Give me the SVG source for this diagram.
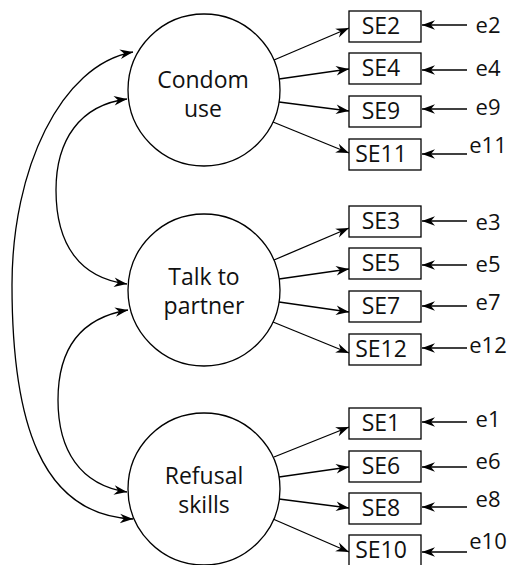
<svg xmlns="http://www.w3.org/2000/svg" width="516" height="565" viewBox="0 0 516 565">
  <style>
    .latent { fill: #fff; stroke: #000; stroke-width: 1.3; }
    .item { fill: #fff; stroke: #000; stroke-width: 1.3; }
    .lbl { font-family: "Open Sans", "DejaVu Sans", sans-serif; font-size: 23px; fill: #111; text-anchor: middle; }
    .err { font-family: "Open Sans", "DejaVu Sans", sans-serif; font-size: 22px; fill: #111; text-anchor: middle; }
    .edge { fill: none; stroke: #000; stroke-width: 1.3; marker-end: url(#head); }
    .cov { fill: none; stroke: #000; stroke-width: 1.3; marker-start: url(#head); marker-end: url(#head); }
  </style>
  <defs>
    <marker id="head" markerUnits="userSpaceOnUse" markerWidth="16" markerHeight="12" viewBox="-14 -6 16 12" refX="0" refY="0" orient="auto-start-reverse">
      <path d="M0,0 L-13,-4.8 L-9,0 L-13,4.8 Z" fill="#000"/>
    </marker>
  </defs>
  <rect width="516" height="565" fill="#fff"/>

  <!-- connectors -->
  <g id="connectors">
    <!-- covariances between factors -->
    <path class="cov" d="M133,52 C60,65 12,170 12,285 C12,420 40,515 133,519"/>
    <path class="cov" d="M127,99 C80,105 56,140 56,190 C56,245 80,278 127,284"/>
    <path class="cov" d="M128,310 C80,318 58,350 58,400 C58,450 80,485 127,492"/>

    <!-- loadings: Condom use -->
    <line class="edge" x1="274" y1="60" x2="349" y2="28"/>
    <line class="edge" x1="279" y1="79" x2="349" y2="69"/>
    <line class="edge" x1="279" y1="102" x2="349" y2="111"/>
    <line class="edge" x1="273" y1="122" x2="349" y2="153"/>
    <!-- loadings: Talk to partner -->
    <line class="edge" x1="274" y1="260" x2="349" y2="228"/>
    <line class="edge" x1="279" y1="279" x2="349" y2="269"/>
    <line class="edge" x1="279" y1="302" x2="349" y2="312"/>
    <line class="edge" x1="273" y1="322" x2="349" y2="353"/>
    <!-- loadings: Refusal skills -->
    <line class="edge" x1="274" y1="457" x2="349" y2="427"/>
    <line class="edge" x1="279" y1="477" x2="349" y2="467"/>
    <line class="edge" x1="279" y1="499" x2="349" y2="508"/>
    <line class="edge" x1="273" y1="519" x2="349" y2="552"/>

    <!-- error terms -->
    <line class="edge" x1="467" y1="25" x2="422" y2="25"/>
    <line class="edge" x1="467" y1="70" x2="422" y2="70"/>
    <line class="edge" x1="467" y1="109" x2="422" y2="109"/>
    <line class="edge" x1="467" y1="154" x2="422" y2="154"/>
    <line class="edge" x1="467" y1="221" x2="422" y2="221"/>
    <line class="edge" x1="467" y1="265" x2="422" y2="265"/>
    <line class="edge" x1="467" y1="306" x2="422" y2="306"/>
    <line class="edge" x1="467" y1="348" x2="422" y2="348"/>
    <line class="edge" x1="467" y1="422" x2="422" y2="422"/>
    <line class="edge" x1="467" y1="467" x2="422" y2="467"/>
    <line class="edge" x1="467" y1="507" x2="422" y2="507"/>
    <line class="edge" x1="467" y1="552" x2="422" y2="552"/>
  </g>

  <!-- latent factors -->
  <g id="condom-use">
    <circle class="latent" cx="204" cy="90" r="76"/>
    <text class="lbl" x="203" y="88">Condom</text>
    <text class="lbl" x="203" y="117">use</text>
  </g>
  <g id="talk-to-partner">
    <circle class="latent" cx="204" cy="290" r="76"/>
    <text class="lbl" x="204" y="285">Talk to</text>
    <text class="lbl" x="204" y="314">partner</text>
  </g>
  <g id="refusal-skills">
    <circle class="latent" cx="204" cy="489" r="76"/>
    <text class="lbl" x="204" y="484">Refusal</text>
    <text class="lbl" x="204" y="513">skills</text>
  </g>

  <!-- observed items -->
  <g id="SE2"><rect class="item" x="349" y="11" width="72" height="31"/><text class="lbl" x="381" y="34">SE2</text></g>
  <g id="SE4"><rect class="item" x="349" y="53" width="72" height="31"/><text class="lbl" x="381" y="76">SE4</text></g>
  <g id="SE9"><rect class="item" x="349" y="96" width="72" height="31"/><text class="lbl" x="381" y="119">SE9</text></g>
  <g id="SE11"><rect class="item" x="349" y="139" width="72" height="31"/><text class="lbl" x="381" y="162">SE11</text></g>

  <g id="SE3"><rect class="item" x="349" y="206" width="72" height="31"/><text class="lbl" x="381" y="229">SE3</text></g>
  <g id="SE5"><rect class="item" x="349" y="248" width="72" height="31"/><text class="lbl" x="381" y="271">SE5</text></g>
  <g id="SE7"><rect class="item" x="349" y="291" width="72" height="31"/><text class="lbl" x="381" y="314">SE7</text></g>
  <g id="SE12"><rect class="item" x="349" y="334" width="72" height="31"/><text class="lbl" x="381" y="357">SE12</text></g>

  <g id="SE1"><rect class="item" x="349" y="408" width="72" height="31"/><text class="lbl" x="381" y="431">SE1</text></g>
  <g id="SE6"><rect class="item" x="349" y="451" width="72" height="31"/><text class="lbl" x="381" y="474">SE6</text></g>
  <g id="SE8"><rect class="item" x="349" y="493" width="72" height="31"/><text class="lbl" x="381" y="516">SE8</text></g>
  <g id="SE10"><rect class="item" x="349" y="535" width="72" height="31"/><text class="lbl" x="381" y="558">SE10</text></g>

  <!-- error labels -->
  <g id="errors">
    <text class="err" x="488" y="33">e2</text>
    <text class="err" x="488" y="76">e4</text>
    <text class="err" x="488" y="115">e9</text>
    <text class="err" x="488" y="153">e11</text>
    <text class="err" x="488" y="230">e3</text>
    <text class="err" x="488" y="272">e5</text>
    <text class="err" x="488" y="310">e7</text>
    <text class="err" x="488" y="353">e12</text>
    <text class="err" x="488" y="427">e1</text>
    <text class="err" x="488" y="469">e6</text>
    <text class="err" x="488" y="507">e8</text>
    <text class="err" x="488" y="549">e10</text>
  </g>
</svg>
